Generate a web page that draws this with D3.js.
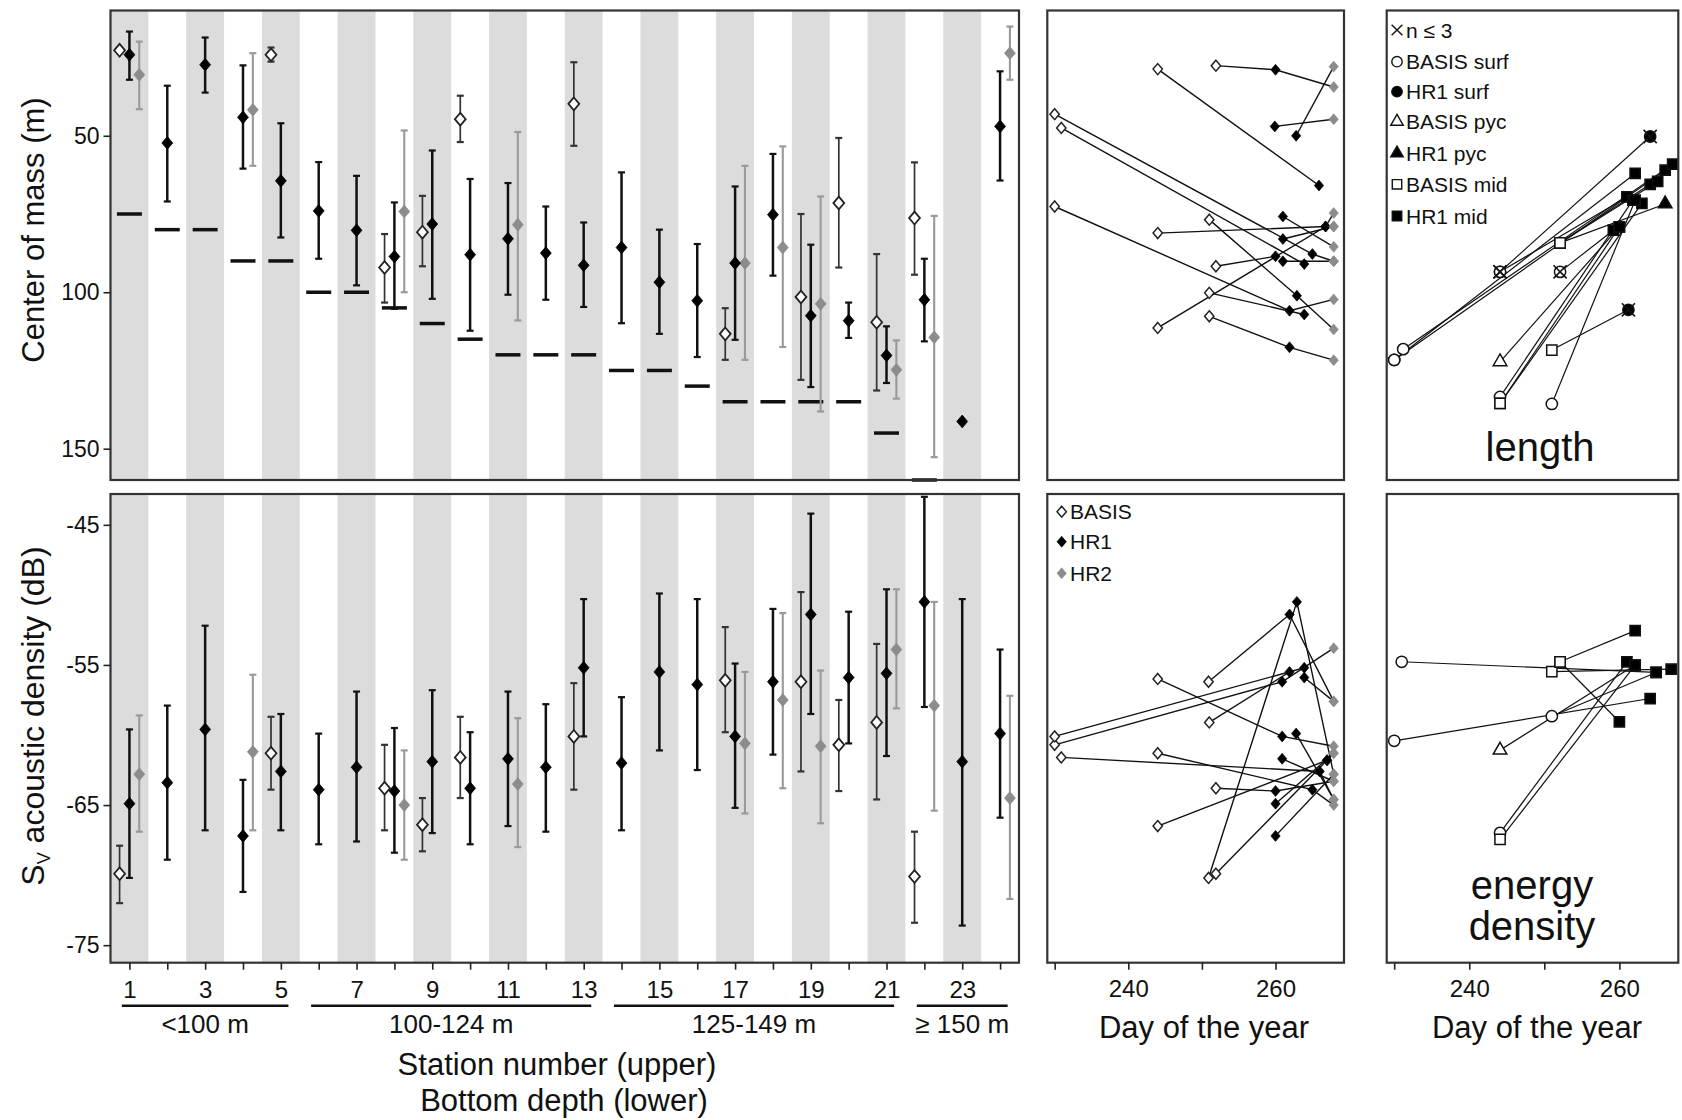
<!DOCTYPE html>
<html>
<head>
<meta charset="utf-8">
<script src="https://cdn.jsdelivr.net/npm/d3@7"></script>
<style>
  body { margin: 0; background: #fff; }
  svg text { font-family: "Liberation Sans", Arial, sans-serif; fill: #111; }
</style>
</head>
<body>
<svg id="chart" width="1682" height="1120"></svg>
<script>
// ---- data ----
const stations = d3.range(1, 25);
const shadedStations = d3.range(1, 24, 2);
const depthGroups = [
  { label: "<100 m", from: 1, to: 5 },
  { label: "100-124 m", from: 6, to: 13 },
  { label: "125-149 m", from: 14, to: 21 },
  { label: "\u2265 150 m", from: 22, to: 24 }
];
// bottom depth (m) per station, null = off chart
const bottomDepth = [75, 80, 80, 90, 90, 100, 100, 105, 110, 115, 120, 120, 120,
  125, 125, 130, 135, 135, 135, 135, 145, 160, null, null];

// center of mass: [station, mean, lower, upper]
const comBasis = [[1, 22.7, null, null], [5, 24.1, 21.8, 26.3], [8, 92.1, 81.4, 103.3],
  [9, 80.8, 69.2, 91.7], [10, 44.7, 37.2, 52.0], [13, 39.8, 26.5, 53.2], [17, 113.3, 105.1, 121.6],
  [19, 101.5, 75.0, 128.0], [20, 71.5, 50.7, 92.1], [21, 109.6, 87.8, 131.4], [22, 76.3, 58.5, 94.4]];
const comHR1 = [[1, 24.1, 16.7, 32.1], [2, 52.3, 34.0, 71.0], [3, 27.3, 18.6, 36.2], [4, 44.1, 27.5, 60.5],
  [5, 64.4, 46.0, 82.5], [6, 74.0, 58.4, 89.3], [7, 80.2, 62.8, 97.8], [8, 88.6, 71.3, 105.3],
  [9, 78.2, 54.7, 102.1], [10, 88.0, 63.8, 112.3], [11, 82.9, 65.1, 100.8], [12, 87.5, 72.6, 102.4],
  [13, 91.4, 77.7, 104.7], [14, 85.7, 61.7, 109.9], [15, 96.8, 80.0, 113.3], [16, 102.7, 84.6, 120.7],
  [17, 90.7, 66.2, 115.2], [18, 75.2, 55.8, 94.7], [19, 107.5, 84.8, 130.3], [20, 109.1, 103.3, 114.6],
  [21, 120.2, 110.9, 129.0], [22, 102.4, 89.3, 115.7], [23, 141.3, null, null], [24, 47.0, 29.4, 64.3]];
const comHR2 = [[1, 30.5, 19.9, 41.5], [4, 41.7, 23.6, 59.6], [8, 74.2, 48.3, 100.0], [11, 78.4, 48.8, 109.0],
  [17, 90.7, 59.6, 121.6], [18, 85.7, 53.4, 117.5], [19, 103.7, 69.4, 138.1], [21, 124.8, 115.4, 134.0],
  [22, 114.4, 75.6, 152.7], [24, 23.6, 15.1, 32.1]];

// Sv acoustic density: [station, mean, upper, lower]
const svBasis = [[1, -69.9, -67.9, -72.0], [5, -61.3, -58.7, -63.9], [8, -63.8, -60.7, -66.8],
  [9, -66.4, -64.5, -68.3], [10, -61.6, -58.7, -64.5], [13, -60.1, -56.3, -63.9], [17, -56.1, -52.3, -59.8],
  [19, -56.2, -49.8, -62.6], [20, -60.7, -57.5, -64.0], [21, -59.1, -53.5, -64.6], [22, -70.1, -66.9, -73.4]];
const svHR1 = [[1, -64.9, -59.6, -70.2], [2, -63.4, -57.9, -68.9], [3, -59.6, -52.2, -66.8], [4, -67.2, -63.2, -71.2],
  [5, -62.6, -58.5, -66.8], [6, -63.9, -59.9, -67.8], [7, -62.3, -56.9, -67.6], [8, -64.0, -59.5, -68.4],
  [9, -61.9, -56.8, -67.0], [10, -63.8, -59.8, -67.8], [11, -61.7, -56.9, -66.5], [12, -62.3, -57.8, -66.9],
  [13, -55.2, -50.3, -60.1], [14, -62.0, -57.3, -66.8], [15, -55.5, -49.9, -61.1], [16, -56.4, -50.3, -62.5],
  [17, -60.1, -54.9, -65.2], [18, -56.2, -51.0, -61.4], [19, -51.4, -44.2, -58.5], [20, -55.9, -51.2, -60.6],
  [21, -55.6, -49.6, -61.5], [22, -50.5, -43.0, -58.0], [23, -61.9, -50.3, -73.6], [24, -59.9, -53.9, -65.9]];
const svHR2 = [[1, -62.8, -58.6, -66.9], [4, -61.2, -55.7, -66.8], [8, -65.0, -61.1, -68.9], [11, -63.5, -58.8, -68.0],
  [17, -60.6, -55.5, -65.6], [18, -57.5, -51.3, -63.8], [19, -60.8, -55.4, -66.3], [21, -53.9, -49.6, -58.1],
  [22, -57.9, -50.5, -65.4], [24, -64.5, -57.2, -71.7]];

// day-of-year tracks: [day, value, survey]
const comTracks = [
  [[251.9, 27.6, "B"], [260.0, 28.9, "H1"], [267.9, 34.4, "H2"]],
  [[262.8, 50.0, "H1"], [267.9, 27.9, "H2"]],
  [[259.9, 47.0, "H1"], [267.9, 44.7, "H2"]],
  [[244.0, 28.7, "B"], [265.9, 65.9, "H1"]],
  [[230.0, 43.1, "B"], [265.0, 87.8, "H1"], [267.9, 90.1, "H2"]],
  [[230.9, 47.5, "B"], [263.9, 91.0, "H1"]],
  [[230.0, 72.6, "B"], [261.9, 105.9, "H1"], [267.9, 102.3, "H2"]],
  [[244.0, 81.1, "B"], [266.8, 79.0, "H1"], [267.9, 79.0, "H2"]],
  [[251.0, 76.8, "B"], [262.9, 101.1, "H1"], [267.9, 111.9, "H2"]],
  [[251.9, 91.7, "B"], [260.0, 88.5, "H1"]],
  [[251.0, 100.2, "B"], [263.9, 107.1, "H1"]],
  [[244.0, 111.4, "B"], [266.8, 79.0, "H1"], [267.9, 74.7, "H2"]],
  [[251.0, 107.7, "B"], [261.9, 117.6, "H1"], [267.9, 121.7, "H2"]],
  [[261.0, 75.8, "H1"], [267.9, 85.5, "H2"]],
  [[261.0, 83.0, "H1"], [267.9, 79.0, "H2"]],
  [[261.0, 90.1, "H1"], [267.9, 90.1, "H2"]]
];
const svTracks = [
  [[250.9, -56.2, "B"], [261.9, -51.4, "H1"], [267.9, -57.6, "H2"]],
  [[250.9, -70.2, "B"], [262.9, -50.5, "H1"], [267.9, -62.8, "H2"]],
  [[251.9, -69.9, "B"], [267.0, -61.8, "H1"]],
  [[230.0, -60.7, "B"], [260.9, -56.2, "H1"], [267.9, -53.8, "H2"]],
  [[230.0, -60.1, "B"], [263.9, -55.2, "H1"]],
  [[251.0, -59.1, "B"], [261.9, -55.5, "H1"]],
  [[230.9, -61.6, "B"], [266.0, -62.6, "H1"], [267.9, -64.6, "H2"]],
  [[244.0, -56.0, "B"], [260.9, -60.1, "H1"], [267.9, -60.8, "H2"]],
  [[244.0, -61.3, "B"], [265.0, -63.9, "H1"], [267.9, -65.0, "H2"]],
  [[251.9, -63.8, "B"], [260.0, -64.0, "H1"], [267.9, -63.3, "H2"]],
  [[244.0, -66.5, "B"], [267.0, -61.8, "H1"], [267.9, -61.3, "H2"]],
  [[260.0, -67.2, "H1"], [267.9, -62.8, "H2"]],
  [[262.8, -59.9, "H1"], [267.9, -64.6, "H2"]],
  [[260.9, -61.7, "H1"], [267.9, -63.3, "H2"]],
  [[260.0, -64.9, "H1"], [267.9, -61.3, "H2"]],
  [[263.9, -55.9, "H1"], [267.9, -57.6, "H2"]]
];

// length / energy density (relative scale 0-100): [day, value, marker, crossed]
const lengthTracks = [
  [[230.0, 26.0, "Bsurf", 0], [266.1, 66.5, "Hmid", 0]],
  [[231.2, 28.3, "Bsurf", 0], [267.1, 67.8, "Hmid", 0]],
  [[230.0, 26.0, "Bsurf", 0], [262.1, 65.8, "Hmid", 0]],
  [[244.1, 44.8, "Bsurf", 1], [264.1, 73.7, "Hsurf", 1]],
  [[244.1, 44.8, "Bsurf", 1], [261.0, 60.8, "Hmid", 0]],
  [[252.1, 51.0, "Bmid", 0], [266.1, 59.3, "Hpyc", 0]],
  [[252.1, 51.0, "Bmid", 0], [264.1, 63.5, "Hmid", 0]],
  [[252.1, 51.0, "Bmid", 0], [265.1, 64.1, "Hmid", 0]],
  [[252.1, 44.8, "Bsurf", 1], [259.2, 53.7, "Hmid", 0]],
  [[244.1, 25.6, "Bpyc", 0], [260.0, 54.4, "Hmid", 0]],
  [[244.1, 18.1, "Bsurf", 0], [261.8, 60.1, "Hmid", 0]],
  [[244.1, 16.7, "Bmid", 0], [260.0, 54.4, "Hmid", 0]],
  [[244.1, 16.7, "Bmid", 0], [263.0, 59.4, "Hmid", 0]],
  [[251.0, 16.6, "Bsurf", 0], [262.1, 60.1, "Hmid", 0]],
  [[251.0, 28.1, "Bmid", 0], [261.2, 36.7, "Hsurf", 1]]
];
const energyTracks = [
  [[231.0, 64.5, "Bsurf", 0], [264.9, 62.2, "Hmid", 0]],
  [[251.0, 62.4, "Bmid", 0], [266.9, 62.9, "Hmid", 0]],
  [[252.1, 64.5, "Bmid", 0], [262.1, 71.2, "Hmid", 0]],
  [[252.1, 64.5, "Bmid", 0], [260.0, 51.6, "Hmid", 0]],
  [[230.0, 47.5, "Bsurf", 0], [264.1, 56.6, "Hmid", 0]],
  [[251.0, 52.8, "Bsurf", 0], [264.9, 62.2, "Hmid", 0]],
  [[244.1, 45.5, "Bpyc", 0], [262.1, 63.8, "Hmid", 0]],
  [[244.1, 27.7, "Bsurf", 0], [261.0, 64.5, "Hmid", 0]],
  [[244.1, 26.3, "Bmid", 0], [262.1, 63.8, "Hmid", 0]]
];

// ---- layout ----
const svg = d3.select("#chart");
const L = { x0: 110.5, x1: 1019 }, M = { x0: 1047.3, x1: 1344 }, R = { x0: 1386.7, x1: 1678.3 };
const T = { y0: 10.5, y1: 480 }, B = { y0: 494, y1: 962.7 };

const xSt = d3.scaleLinear().domain([0.5, 24.5]).range([L.x0, L.x1]);
const yCom = d3.scaleLinear().domain([10, 160]).range([10.6, 480]);
const ySv = d3.scaleLinear().domain([-42.8, -76.25]).range([B.y0, B.y1]);
const xDayM = d3.scaleLinear().domain([229, 269.3]).range([M.x0, M.x1]);
const xDayR = d3.scaleLinear().domain([229, 267.85]).range([R.x0, R.x1]);
const yLen = d3.scaleLinear().domain([0, 100]).range([481.7, 13.3]);
const yEn = d3.scaleLinear().domain([0, 100]).range([961.7, 496.7]);

const offset = { B: -0.26, H1: 0, H2: 0.26 };
const style = {
  B: { fill: "#fff", stroke: "#222", bar: "#333", bw: 1.7 },
  H1: { fill: "#000", stroke: "#000", bar: "#111", bw: 2.5 },
  H2: { fill: "#8c8c8c", stroke: "#8c8c8c", bar: "#9a9a9a", bw: 2.1 }
};

const diamond = {
  draw(ctx, size) {
    const h = Math.sqrt(size) * 0.55, w = h * 0.85;
    ctx.moveTo(0, -h); ctx.lineTo(w, 0); ctx.lineTo(0, h); ctx.lineTo(-w, 0); ctx.closePath();
  }
};
const crossX = {
  draw(ctx, size) {
    const r = Math.sqrt(size) * 0.6;
    ctx.moveTo(-r, -r); ctx.lineTo(r, r); ctx.moveTo(r, -r); ctx.lineTo(-r, r);
  }
};
const markers = {
  Bsurf: { type: d3.symbolCircle, size: 100, fill: "#fff" },
  Hsurf: { type: d3.symbolCircle, size: 100, fill: "#000" },
  Bpyc: { type: d3.symbolTriangle, size: 80, fill: "#fff" },
  Hpyc: { type: d3.symbolTriangle, size: 80, fill: "#000" },
  Bmid: { type: d3.symbolSquare, size: 105, fill: "#fff" },
  Hmid: { type: d3.symbolSquare, size: 105, fill: "#000" }
};

function frame(x0, x1, y0, y1) {
  svg.append("rect").attr("x", x0).attr("y", y0).attr("width", x1 - x0).attr("height", y1 - y0)
    .attr("fill", "none").attr("stroke", "#333").attr("stroke-width", 2.2);
}

// ---- left panels: shaded stations ----
[T, B].forEach(p => {
  svg.append("g").selectAll("rect").data(shadedStations).join("rect")
    .attr("x", d => xSt(d - 0.5)).attr("width", d => xSt(d + 0.5) - xSt(d - 0.5))
    .attr("y", p.y0).attr("height", p.y1 - p.y0).attr("fill", "#dcdcdc");
});

// bottom depth dashes
svg.append("g").selectAll("line").data(stations.filter((s, i) => bottomDepth[i] != null)).join("line")
  .attr("x1", s => xSt(s - 0.33)).attr("x2", s => xSt(s + 0.33))
  .attr("y1", s => yCom(bottomDepth[s - 1])).attr("y2", s => yCom(bottomDepth[s - 1]))
  .attr("stroke", "#111").attr("stroke-width", 3.5);

function errorSeries(data, key, y) {
  const st = style[key];
  const g = svg.append("g");
  const withBar = data.filter(d => d[2] != null);
  const cx = d => xSt(d[0] + offset[key]);
  g.selectAll(".bar").data(withBar).join("line")
    .attr("x1", cx).attr("x2", cx).attr("y1", d => y(d[2])).attr("y2", d => y(d[3]))
    .attr("stroke", st.bar).attr("stroke-width", st.bw);
  [2, 3].forEach(k => {
    g.selectAll(".cap" + k).data(withBar).join("line")
      .attr("x1", d => cx(d) - 3.5).attr("x2", d => cx(d) + 3.5)
      .attr("y1", d => y(d[k])).attr("y2", d => y(d[k]))
      .attr("stroke", st.bar).attr("stroke-width", 2.2);
  });
  return g;
}
function diamonds(data, key, y) {
  const st = style[key];
  svg.append("g").selectAll("path").data(data).join("path")
    .attr("d", d3.symbol().type(diamond).size(135))
    .attr("transform", d => `translate(${xSt(d[0] + offset[key])},${y(d[1])})`)
    .attr("fill", st.fill).attr("stroke", st.stroke).attr("stroke-width", key === "B" ? 1.8 : 0.8);
}
[[comBasis, "B"], [comHR2, "H2"], [comHR1, "H1"]].forEach(([d, k]) => errorSeries(d, k, yCom));
[[svBasis, "B"], [svHR2, "H2"], [svHR1, "H1"]].forEach(([d, k]) => errorSeries(d, k, ySv));
[[comBasis, "B"], [comHR2, "H2"], [comHR1, "H1"]].forEach(([d, k]) => diamonds(d, k, yCom));
[[svBasis, "B"], [svHR2, "H2"], [svHR1, "H1"]].forEach(([d, k]) => diamonds(d, k, ySv));

// ---- middle panels: tracks ----
function trackPanel(tracks, x, y) {
  const line = d3.line().x(d => x(d[0])).y(d => y(d[1]));
  const g = svg.append("g");
  g.selectAll("path.trk").data(tracks).join("path").attr("class", "trk")
    .attr("d", line).attr("fill", "none").attr("stroke", "#111").attr("stroke-width", 1.4);
  g.selectAll("path.pt").data(tracks.flat()).join("path").attr("class", "pt")
    .attr("d", d3.symbol().type(diamond).size(100))
    .attr("transform", d => `translate(${x(d[0])},${y(d[1])})`)
    .attr("fill", d => style[d[2]].fill).attr("stroke", d => style[d[2]].stroke)
    .attr("stroke-width", d => d[2] === "B" ? 1.5 : 0.6);
}
trackPanel(comTracks, xDayM, yCom);
trackPanel(svTracks, xDayM, ySv);

// ---- right panels ----
function markerPanel(tracks, x, y) {
  const line = d3.line().x(d => x(d[0])).y(d => y(d[1]));
  const g = svg.append("g");
  g.selectAll("path.trk").data(tracks).join("path").attr("class", "trk")
    .attr("d", line).attr("fill", "none").attr("stroke", "#111").attr("stroke-width", 1.2);
  const pts = tracks.flat();
  g.selectAll("path.pt").data(pts).join("path").attr("class", "pt")
    .attr("d", d => d3.symbol().type(markers[d[2]].type).size(markers[d[2]].size)())
    .attr("transform", d => `translate(${x(d[0])},${y(d[1])})`)
    .attr("fill", d => markers[d[2]].fill).attr("stroke", "#111").attr("stroke-width", 1.5);
  g.selectAll("path.x").data(pts.filter(d => d[3])).join("path").attr("class", "x")
    .attr("d", d3.symbol().type(crossX).size(120))
    .attr("transform", d => `translate(${x(d[0])},${y(d[1])})`)
    .attr("fill", "none").attr("stroke", "#111").attr("stroke-width", 1.6);
}
markerPanel(lengthTracks, xDayR, yLen);
markerPanel(energyTracks, xDayR, yEn);

// ---- frames ----
frame(L.x0, L.x1, T.y0, T.y1); frame(L.x0, L.x1, B.y0, B.y1);
frame(M.x0, M.x1, T.y0, T.y1); frame(M.x0, M.x1, B.y0, B.y1);
frame(R.x0, R.x1, T.y0, T.y1); frame(R.x0, R.x1, B.y0, B.y1);

// ---- axes ----
function styleAxis(g, size) {
  g.select(".domain").remove();
  g.selectAll(".tick line").attr("stroke", "#222").attr("stroke-width", 1.6);
  g.selectAll(".tick text").attr("font-size", size).attr("fill", "#111")
    .style("font-family", '"Liberation Sans", Arial, sans-serif');
}
svg.append("g").attr("transform", `translate(${L.x0},0)`)
  .call(d3.axisLeft(yCom).tickValues([50, 100, 150]).tickSize(7).tickPadding(4))
  .call(g => styleAxis(g, 23));
svg.append("g").attr("transform", `translate(${L.x0},0)`)
  .call(d3.axisLeft(ySv).tickValues([-45, -55, -65, -75]).tickFormat(d => String(d)).tickSize(7).tickPadding(4))
  .call(g => styleAxis(g, 23));
svg.append("g").attr("transform", `translate(0,${B.y1})`)
  .call(d3.axisBottom(xSt).tickValues(stations).tickFormat(d => d % 2 ? d : "").tickSize(7).tickPadding(11))
  .call(g => styleAxis(g, 24));
[xDayM, xDayR].forEach(x => {
  svg.append("g").attr("transform", `translate(0,${B.y1})`)
    .call(d3.axisBottom(x).tickValues([230, 240, 250, 260]).tickFormat(d => d % 20 === 0 ? d : "")
      .tickSize(7).tickPadding(10))
    .call(g => styleAxis(g, 24));
});

// depth groups under station axis
const grp = svg.append("g");
grp.selectAll("line").data(depthGroups).join("line")
  .attr("x1", d => xSt(d.from - 0.2)).attr("x2", d => xSt(d.to + 0.2))
  .attr("y1", 1005.7).attr("y2", 1005.7).attr("stroke", "#111").attr("stroke-width", 2.5);
grp.selectAll("text").data(depthGroups).join("text")
  .attr("x", d => (xSt(d.from - 0.2) + xSt(d.to + 0.2)) / 2).attr("y", 1033)
  .attr("text-anchor", "middle").attr("font-size", 26).text(d => d.label);

// ---- titles ----
function text(x, y, str, size, rotate) {
  return svg.append("text").attr("transform", `translate(${x},${y})` + (rotate ? " rotate(-90)" : ""))
    .attr("text-anchor", "middle").attr("font-size", size).text(str);
}
text(44, 230, "Center of mass (m)", 31, true);
const sv = svg.append("text").attr("transform", "translate(44,716) rotate(-90)")
  .attr("text-anchor", "middle").attr("font-size", 32);
sv.append("tspan").text("S");
sv.append("tspan").attr("font-size", 18).attr("dy", 6).text("V");
sv.append("tspan").attr("dy", -6).text(" acoustic density (dB)");
text(557, 1075, "Station number (upper)", 31);
text(564, 1111, "Bottom depth (lower)", 31);
text(1204, 1038, "Day of the year", 31);
text(1537, 1038, "Day of the year", 31);
text(1540, 461, "length", 40);
text(1532, 899, "energy", 40);
text(1532, 940, "density", 40);

// ---- legends ----
const legMid = [["B", "BASIS"], ["H1", "HR1"], ["H2", "HR2"]];
const legMidRows = [511.7, 541.7, 573.3];
const lm = svg.append("g");
lm.selectAll("path").data(legMid).join("path")
  .attr("d", d3.symbol().type(diamond).size(100))
  .attr("transform", (d, i) => `translate(1061.7,${legMidRows[i]})`)
  .attr("fill", d => style[d[0]].fill).attr("stroke", d => style[d[0]].stroke)
  .attr("stroke-width", d => d[0] === "B" ? 1.5 : 0.6);
lm.selectAll("text").data(legMid).join("text")
  .attr("x", 1070).attr("y", (d, i) => legMidRows[i]).attr("dy", "0.36em")
  .attr("font-size", 21).attr("fill", d => d[0] === "H2" ? "#555" : "#111").text(d => d[1]);

const legRight = [["X", "n \u2264 3"], ["Bsurf", "BASIS surf"], ["Hsurf", "HR1 surf"], ["Bpyc", "BASIS pyc"],
  ["Hpyc", "HR1 pyc"], ["Bmid", "BASIS mid"], ["Hmid", "HR1 mid"]];
const legRows = [30, 61.7, 91.7, 121.7, 153.3, 184.3, 216];
const lr = svg.append("g");
lr.selectAll("path").data(legRight).join("path")
  .attr("d", d => d[0] === "X" ? d3.symbol().type(crossX).size(80)()
    : d3.symbol().type(markers[d[0]].type).size(markers[d[0]].size * 0.85)())
  .attr("transform", (d, i) => `translate(1397,${legRows[i]})`)
  .attr("fill", d => d[0] === "X" ? "none" : markers[d[0]].fill)
  .attr("stroke", "#111").attr("stroke-width", 1.4);
lr.selectAll("text").data(legRight).join("text")
  .attr("x", 1406).attr("y", (d, i) => legRows[i]).attr("dy", "0.36em")
  .attr("font-size", 21).text(d => d[1]);
</script>
</body>
</html>
